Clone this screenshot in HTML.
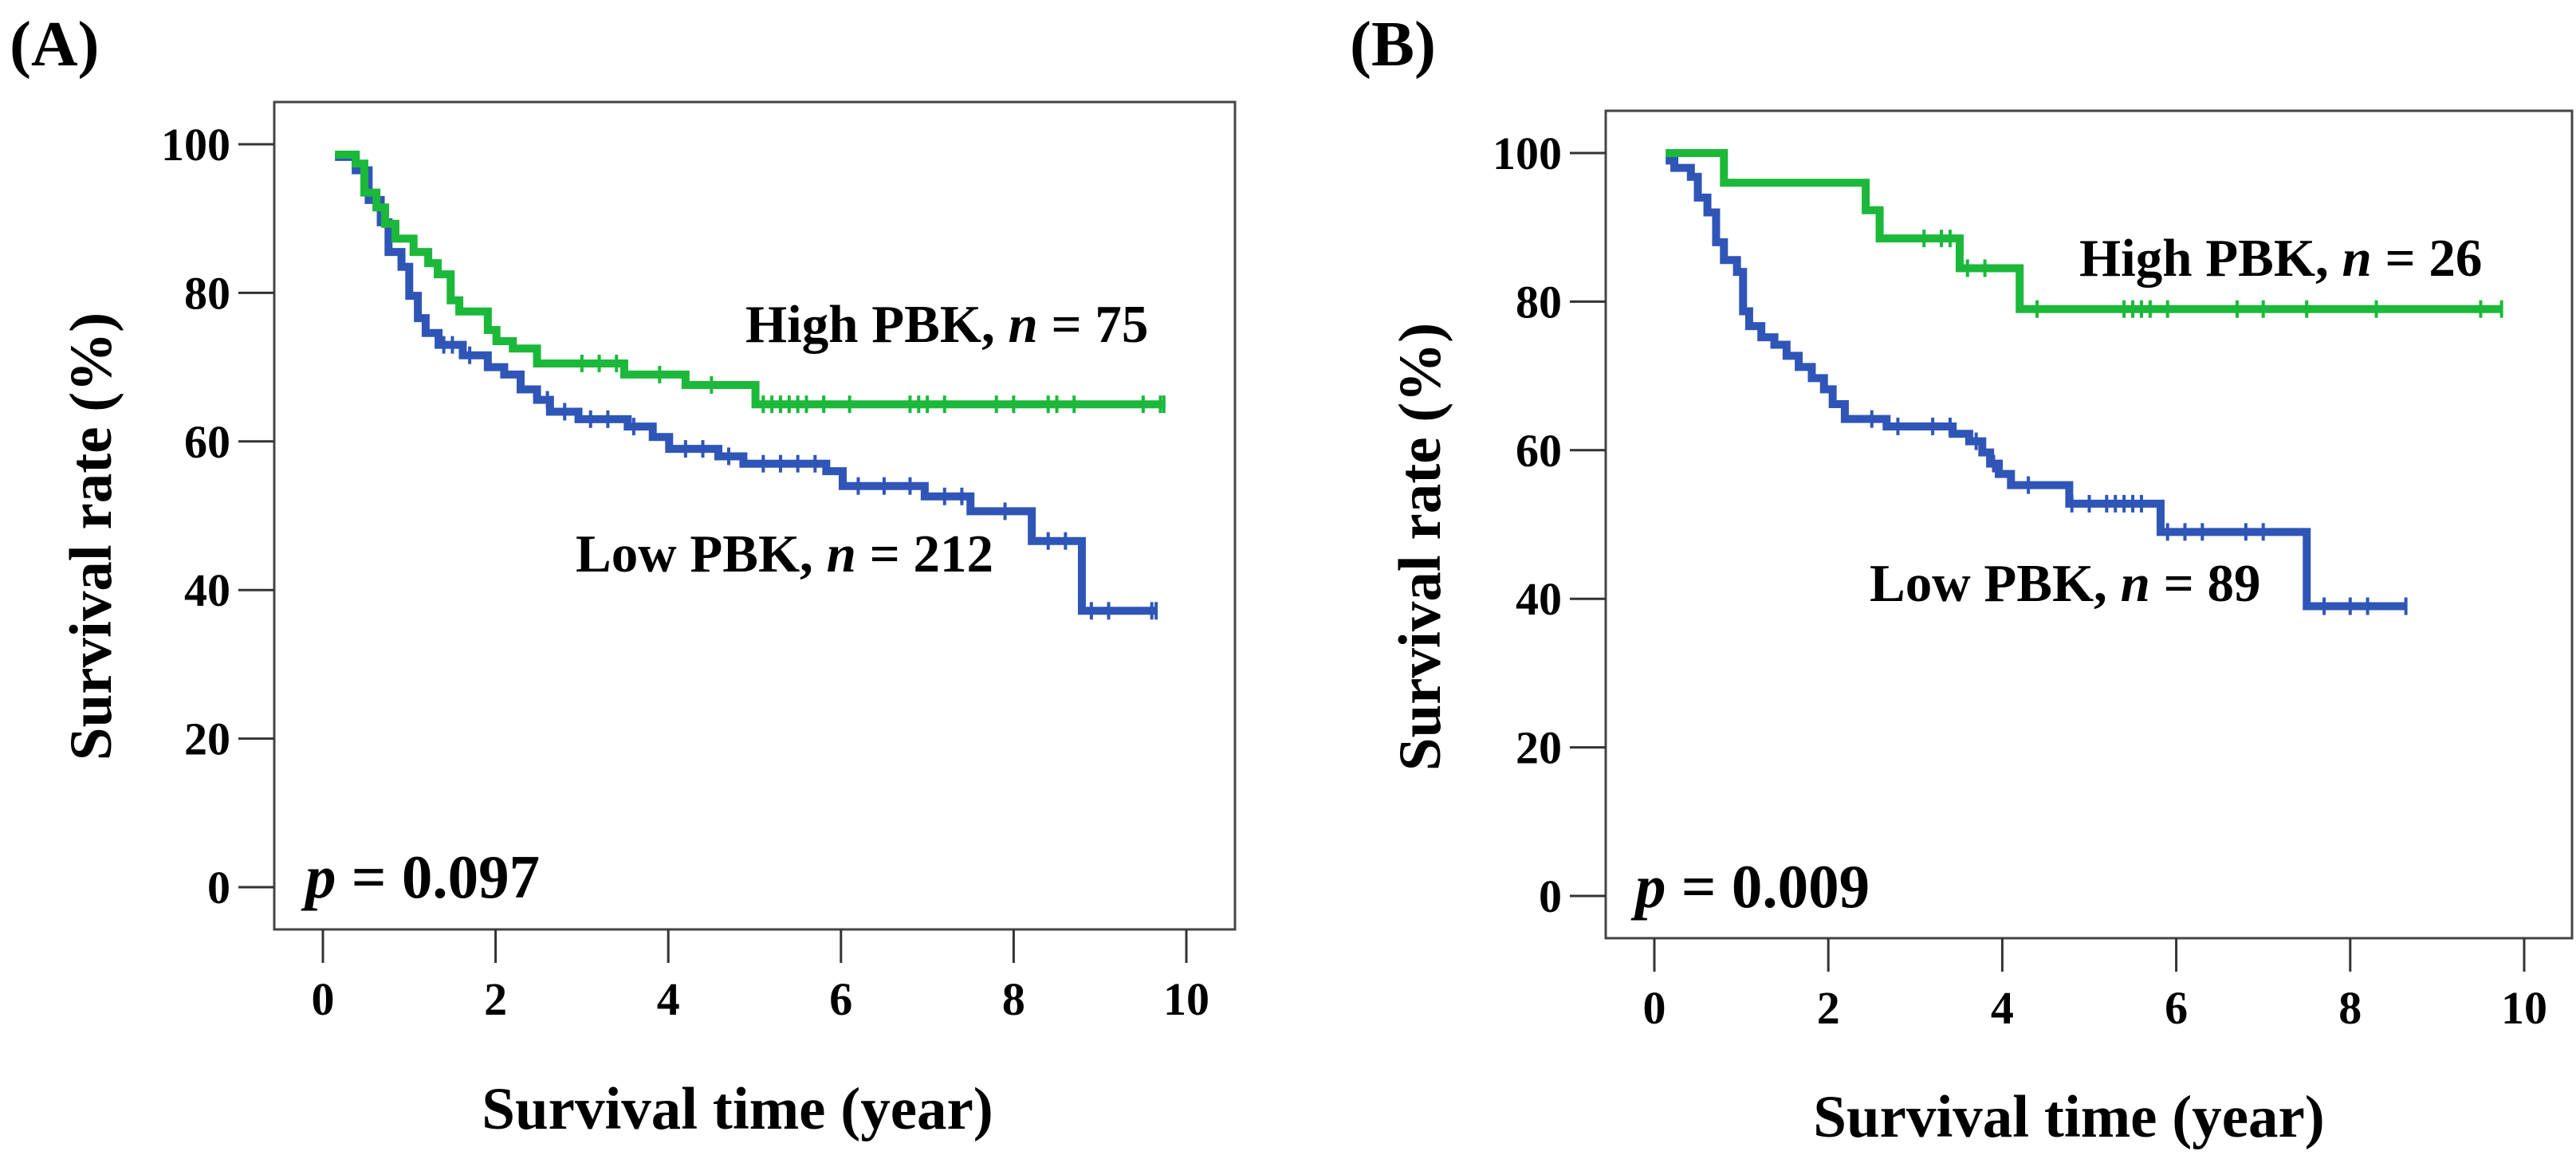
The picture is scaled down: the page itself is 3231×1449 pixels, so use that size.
<!DOCTYPE html>
<html><head><meta charset="utf-8"><style>
html,body{margin:0;padding:0;background:#fff;}
svg{display:block;font-family:"Liberation Serif","Times New Roman",serif;font-weight:bold;}
</style></head><body>
<svg id="fig" width="3231" height="1449" viewBox="0 0 3231 1449" xmlns="http://www.w3.org/2000/svg"></svg>
<script>
// Panel A data
const aHighT=[0.14,0.38,0.48,0.62,0.72,0.84,1.05,1.22,1.33,1.48,1.58,1.91,2.01,2.20,2.48,3.49,4.20,5.01];
const aHighS=[98.6,97.4,93.5,91.5,89.3,87.3,85.5,84,82.5,79,77.5,75,73.5,72.5,70.5,69,67.6,65];
const aHighEnd=9.74;
const aHighCens=[3.0,3.2,3.4,3.9,4.5,5.1,5.2,5.3,5.4,5.5,5.6,5.8,6.1,6.8,6.9,7.0,7.2,7.8,8.0,8.4,8.5,8.7,9.5,9.7];
const aLowT=[0.14,0.38,0.53,0.67,0.76,0.91,1.0,1.1,1.19,1.34,1.62,1.91,2.1,2.29,2.48,2.63,2.96,3.53,3.82,4.01,4.58,4.87,5.83,6.02,6.97,7.5,8.21,8.79];
const aLowS=[98.3,96.5,92.5,89.5,85.5,83.5,79.6,76.6,74.6,73,71.6,70,69,67,65.6,64,63,62,60.6,59,58,57,56,54,52.6,50.6,46.6,37.2];
const aLowEnd=9.65;
const aLowCens=[1.4,1.5,1.7,2.6,2.8,3.1,3.3,3.6,4.2,4.4,4.7,5.1,5.3,5.5,5.7,6.2,6.5,6.8,7.2,7.4,7.9,8.4,8.6,8.9,9.1,9.6];
// Panel B data
const bHighT=[0.13,0.8,2.43,2.59,3.51,4.2];
const bHighS=[100,96,92.3,88.5,84.5,79];
const bHighEnd=9.74;
const bHighCens=[3.1,3.3,3.4,3.6,3.8,4.4,5.4,5.5,5.6,5.7,5.9,6.7,7.0,7.5,8.3,9.5];
const bLowT=[0.13,0.23,0.42,0.5,0.61,0.71,0.8,0.95,1.02,1.09,1.23,1.38,1.52,1.66,1.81,1.95,2.05,2.19,2.67,3.43,3.62,3.77,3.86,3.96,4.1,4.77,5.82,7.5];
const bLowS=[99,98,96.8,94,92,88,85.6,84,78.7,76.7,75.2,74.2,72.7,71.2,69.7,68.2,66.2,64.2,63.2,62.2,61.2,59.7,58.2,56.8,55.3,52.8,49,39];
const bLowEnd=8.64;
const bLowCens=[2.5,2.8,3.2,3.4,3.7,3.9,4.3,4.8,5.0,5.2,5.3,5.4,5.5,5.6,5.9,6.1,6.3,6.8,7.0,7.7,8.0,8.2];
const yTicks=[0,20,40,60,80,100];
const xTicks=[0,2,4,6,8,10];

const NS="http://www.w3.org/2000/svg";
const svg=document.getElementById('fig');
function mk(tag,attrs,parent,text){const e=document.createElementNS(NS,tag);for(const k in attrs)e.setAttribute(k,attrs[k]);if(text!==undefined)e.textContent=text;(parent||svg).appendChild(e);return e;}

function panel(cfg){
  const g=mk('g',{});
  
  
  const X=t=>cfg.x0+t*(cfg.x10-cfg.x0)/10;
  const Y=s=>cfg.y0+s*(cfg.y100-cfg.y0)/100;
  const fr=mk('rect',{x:cfg.fl,y:cfg.ft,width:cfg.fr-cfg.fl,height:cfg.fb-cfg.ft,fill:'none',stroke:'#444','stroke-width':3},g);
  
  
  yTicks.forEach(v=>{
    mk('line',{x1:cfg.fl-45,x2:cfg.fl,y1:Y(v),y2:Y(v),stroke:'#333','stroke-width':3},g);
    const t=mk('text',{x:cfg.fl-55,y:Y(v)+20,'font-size':58,'text-anchor':'end'},g,String(v));
    
    
  });
  xTicks.forEach(v=>{
    mk('line',{x1:X(v),x2:X(v),y1:cfg.fb,y2:cfg.fb+42,stroke:'#333','stroke-width':3},g);
    const t=mk('text',{x:X(v),y:cfg.fb+107,'font-size':58,'text-anchor':'middle'},g,String(v));
    
    
  });
  function curve(T,S,end,cens,color,nm){
    let d='M'+X(T[0])+','+Y(S[0]);
    for(let i=1;i<T.length;i++){d+=' H'+X(T[i])+' V'+Y(S[i]);}
    d+=' H'+X(end);
    const p=mk('path',{d:d,fill:'none',stroke:color,'stroke-width':10,'stroke-linejoin':'miter'},g);
    
    
    cens.concat([end]).forEach(c=>{
      let s=S[0];for(let i=0;i<T.length;i++){if(T[i]<=c)s=S[i];}
      const m=mk('line',{x1:X(c),x2:X(c),y1:Y(s)-11,y2:Y(s)+11,stroke:color,'stroke-width':4},g);
      
      
    });
  }
  curve(cfg.lowT,cfg.lowS,cfg.lowEnd,cfg.lowC,'#2f55b7','low-pbk-curve');
  curve(cfg.highT,cfg.highS,cfg.highEnd,cfg.highC,'#1cb83a','high-pbk-curve');
  const hl=mk('text',{x:cfg.hx,y:cfg.hy,'font-size':67},g);
  
  hl.innerHTML='High PBK, <tspan font-style="italic">n</tspan> = '+cfg.hn;
  const ll=mk('text',{x:cfg.lx,y:cfg.ly,'font-size':67},g);
  
  ll.innerHTML='Low PBK, <tspan font-style="italic">n</tspan> = '+cfg.ln;
  const pv=mk('text',{x:cfg.px,y:cfg.py,'font-size':77},g);
  
  pv.innerHTML='<tspan font-style="italic">p</tspan> = '+cfg.p;
  const yl=mk('text',{x:0,y:0,'font-size':75,'text-anchor':'middle',transform:'translate('+(cfg.ylx+26)+','+cfg.yly+') rotate(-90)'},g,'Survival rate (%)');
  
  const xl=mk('text',{x:cfg.xlx,y:cfg.xly,'font-size':75,'text-anchor':'middle'},g,'Survival time (year)');
  
  const tl=mk('text',{x:cfg.tx,y:82,'font-size':81},g,cfg.tag);
  
}

panel({name:'panel-a',fl:344,ft:128,fr:1549,fb:1166,x0:405,x10:1488,y0:1113,y100:181,
  highT:aHighT,highS:aHighS,highEnd:aHighEnd,highC:aHighCens,lowT:aLowT,lowS:aLowS,lowEnd:aLowEnd,lowC:aLowCens,
  hx:935,hy:429,hn:'75',lx:722,ly:717,ln:'212',px:383,py:1126,p:'0.097',ylx:113,yly:673,xlx:925,xly:1416,tx:12,tag:'(A)'});
panel({name:'panel-b',fl:2014,ft:139,fr:3226,fb:1177,x0:2075,x10:3166,y0:1124,y100:192,
  highT:bHighT,highS:bHighS,highEnd:bHighEnd,highC:bHighCens,lowT:bLowT,lowS:bLowS,lowEnd:bLowEnd,lowC:bLowCens,
  hx:2608,hy:346,hn:'26',lx:2345,ly:754,ln:'89',px:2051,py:1138,p:'0.009',ylx:1780,yly:686,xlx:2595,xly:1426,tx:1693,tag:'(B)'});
</script>
</body></html>
